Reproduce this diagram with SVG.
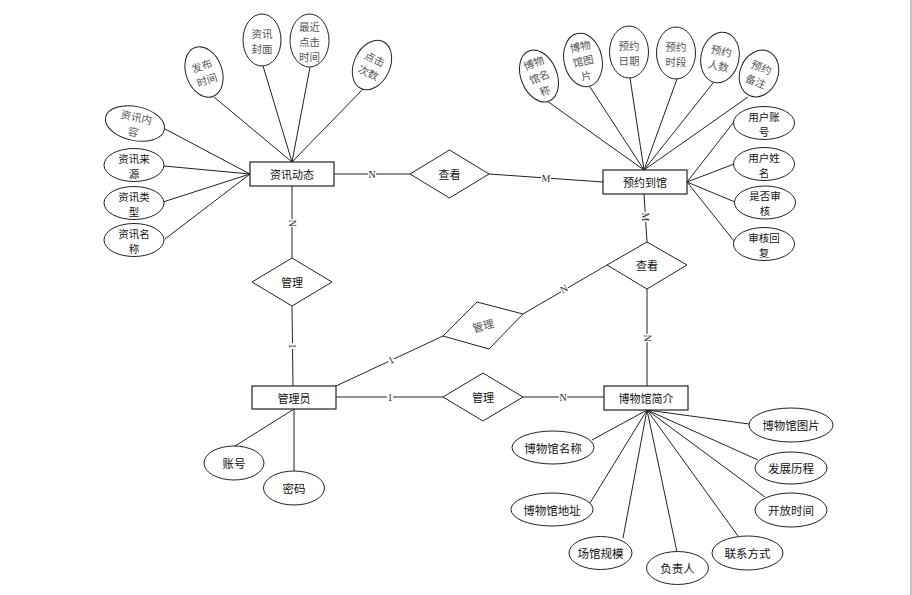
<svg xmlns="http://www.w3.org/2000/svg" width="912" height="595" viewBox="0 0 912 595">
<defs>
<style>
.ent rect{fill:#fff;stroke:#222;stroke-width:1.2}
.rel polygon{fill:#fff;stroke:#222;stroke-width:1}
.att ellipse{fill:#fff;stroke:#222;stroke-width:1}
text{font-family:"Noto Sans CJK SC","Noto Sans",sans-serif;text-anchor:middle;dominant-baseline:central;fill:#111}
.ent text,.rel text{font-size:11px}
.att text{font-size:11.5px}
.att text.m{font-size:10.5px}
.g text{fill:#555}
#connectors line{stroke:#222;stroke-width:1}
.lbl rect{fill:#fff}
.lbl text{font-family:"Liberation Serif",serif;font-size:10px;fill:#222}
</style>
</defs>
<rect x="0" y="0" width="912" height="595" fill="#fff"/>
<rect x="910" y="0" width="2" height="595" fill="#c3c3c3"/>

<g id="connectors">
<line x1="165" y1="129" x2="250" y2="174"/>
<line x1="164" y1="166" x2="250" y2="174"/>
<line x1="163" y1="202" x2="250" y2="174"/>
<line x1="165" y1="239" x2="250" y2="174"/>
<line x1="214" y1="97" x2="292" y2="162"/>
<line x1="263" y1="66" x2="292" y2="162"/>
<line x1="310" y1="67" x2="292" y2="162"/>
<line x1="363" y1="89" x2="292" y2="162"/>
<line x1="547" y1="101" x2="644" y2="170"/>
<line x1="590" y1="87" x2="644" y2="170"/>
<line x1="630" y1="78" x2="644" y2="170"/>
<line x1="677" y1="79" x2="644" y2="170"/>
<line x1="713" y1="83" x2="644" y2="170"/>
<line x1="748" y1="97" x2="644" y2="170"/>
<line x1="733" y1="123" x2="687" y2="182"/>
<line x1="734" y1="164" x2="687" y2="182"/>
<line x1="735" y1="202" x2="687" y2="182"/>
<line x1="734" y1="241" x2="687" y2="182"/>
<line x1="294" y1="409" x2="235" y2="446"/>
<line x1="294" y1="409" x2="294" y2="471"/>
<line x1="749" y1="424" x2="647" y2="410"/>
<line x1="592" y1="440" x2="647" y2="410"/>
<line x1="758" y1="460" x2="647" y2="410"/>
<line x1="590" y1="503" x2="647" y2="410"/>
<line x1="765" y1="497" x2="647" y2="410"/>
<line x1="623" y1="538" x2="647" y2="410"/>
<line x1="677" y1="552" x2="647" y2="410"/>
<line x1="738" y1="536" x2="647" y2="410"/>
<line x1="334" y1="174" x2="410" y2="174"/>
<line x1="489" y1="174" x2="603" y2="182"/>
<line x1="644" y1="194" x2="647" y2="242"/>
<line x1="647" y1="289" x2="647" y2="386"/>
<line x1="292" y1="186" x2="292" y2="258"/>
<line x1="292" y1="306" x2="293" y2="386"/>
<line x1="336" y1="386" x2="443" y2="336"/>
<line x1="523" y1="314" x2="607" y2="265"/>
<line x1="336" y1="397" x2="443" y2="397"/>
<line x1="523" y1="397" x2="604" y2="397"/>
<g class="lbl" transform="translate(372,174)"><rect x="-4" y="-5" width="8" height="10"/><text>N</text></g>
<g class="lbl" transform="translate(546,178) rotate(4)"><rect x="-5" y="-5" width="10" height="10"/><text>M</text></g>
<g class="lbl" transform="translate(645.5,217) rotate(90)"><rect x="-5" y="-4" width="10" height="8"/><text>M</text></g>
<g class="lbl" transform="translate(647,338) rotate(90)"><rect x="-4" y="-4" width="8" height="8"/><text>N</text></g>
<g class="lbl" transform="translate(292,223) rotate(90)"><rect x="-4" y="-4" width="8" height="8"/><text>N</text></g>
<g class="lbl" transform="translate(292.5,346) rotate(90)"><rect x="-3" y="-4" width="6" height="8"/><text>1</text></g>
<g class="lbl" transform="translate(391,360) rotate(-25)"><rect x="-3" y="-4" width="6" height="8"/><text>1</text></g>
<g class="lbl" transform="translate(564,289) rotate(-30)"><rect x="-4" y="-4" width="8" height="8"/><text>N</text></g>
<g class="lbl" transform="translate(390,397)"><rect x="-3" y="-5" width="6" height="10"/><text>1</text></g>
<g class="lbl" transform="translate(563,397)"><rect x="-4" y="-5" width="8" height="10"/><text>N</text></g>
</g>

<g id="e-zixun" class="ent"><rect x="250" y="162" width="84" height="24"/><text x="292" y="174">资讯动态</text></g>
<g id="e-yuyue" class="ent"><rect x="603" y="170" width="84" height="24"/><text x="645" y="182">预约到馆</text></g>
<g id="e-bowuguan" class="ent"><rect x="604" y="386" width="84" height="24"/><text x="646" y="398">博物馆简介</text></g>
<g id="e-admin" class="ent"><rect x="252" y="386" width="84" height="23"/><text x="294" y="397.5">管理员</text></g>

<g id="r-chakan1" class="rel"><polygon points="410,174 449.5,150 489,174 449.5,198"/><text x="449.5" y="174">查看</text></g>
<g id="r-chakan2" class="rel"><polygon points="607,265 647,242 687,265 647,289"/><text x="647" y="265">查看</text></g>
<g id="r-guanli1" class="rel"><polygon points="252,282 292,258 332,282 292,306"/><text x="292" y="282">管理</text></g>
<g id="r-guanli2" class="rel g"><polygon points="477,302 523,314 489,349 443,336"/><text transform="translate(483,325) rotate(-15)">管理</text></g>
<g id="r-guanli3" class="rel"><polygon points="443,397 483,373 523,397 483,421"/><text x="483" y="397">管理</text></g>

<g id="a-zxnr" class="att g" transform="translate(135,123.5) rotate(12)"><ellipse rx="30" ry="17"/><text class="m"><tspan x="0" y="-7.5">资讯内</tspan><tspan x="0" y="7.5">容</tspan></text></g>
<g id="a-zxly" class="att" transform="translate(134,165)"><ellipse rx="30" ry="16.5"/><text class="m"><tspan x="0" y="-7.5">资讯来</tspan><tspan x="0" y="7.5">源</tspan></text></g>
<g id="a-zxlx" class="att" transform="translate(134,203)"><ellipse rx="30" ry="16.5"/><text class="m"><tspan x="0" y="-7.5">资讯类</tspan><tspan x="0" y="7.5">型</tspan></text></g>
<g id="a-zxmc" class="att" transform="translate(134,240)"><ellipse rx="30" ry="16.5"/><text class="m"><tspan x="0" y="-7.5">资讯名</tspan><tspan x="0" y="7.5">称</tspan></text></g>
<g id="a-fbsj" class="att g" transform="translate(204,72) rotate(-20)"><ellipse rx="18" ry="26"/><text class="m"><tspan x="0" y="-7.5">发布</tspan><tspan x="0" y="7.5">时间</tspan></text></g>
<g id="a-zxfm" class="att g" transform="translate(262,40)"><ellipse rx="19" ry="26"/><text class="m"><tspan x="0" y="-7.5">资讯</tspan><tspan x="0" y="7.5">封面</tspan></text></g>
<g id="a-zjdjsj" class="att g" transform="translate(309.5,40.5)"><ellipse rx="19.5" ry="26.5"/><text class="m"><tspan x="0" y="-15">最近</tspan><tspan x="0" y="0">点击</tspan><tspan x="0" y="15">时间</tspan></text></g>
<g id="a-djcs" class="att g" transform="translate(372,65) rotate(25)"><ellipse rx="18" ry="26"/><text class="m"><tspan x="0" y="-7.5">点击</tspan><tspan x="0" y="7.5">次数</tspan></text></g>

<g id="a-bwgmc1" class="att g" transform="translate(539,76) rotate(-22)"><ellipse rx="18" ry="27"/><text class="m"><tspan x="0" y="-15">博物</tspan><tspan x="0" y="0">馆名</tspan><tspan x="0" y="15">称</tspan></text></g>
<g id="a-bwgtp1" class="att g" transform="translate(583,60) rotate(-12)"><ellipse rx="19" ry="27"/><text class="m"><tspan x="0" y="-15">博物</tspan><tspan x="0" y="0">馆图</tspan><tspan x="0" y="15">片</tspan></text></g>
<g id="a-yyrq" class="att g" transform="translate(629,52)"><ellipse rx="19.5" ry="26"/><text class="m"><tspan x="0" y="-7.5">预约</tspan><tspan x="0" y="7.5">日期</tspan></text></g>
<g id="a-yysd" class="att g" transform="translate(676,53)"><ellipse rx="19.5" ry="26"/><text class="m"><tspan x="0" y="-7.5">预约</tspan><tspan x="0" y="7.5">时段</tspan></text></g>
<g id="a-yyrs" class="att g" transform="translate(720,57.5) rotate(12)"><ellipse rx="19" ry="25.5"/><text class="m"><tspan x="0" y="-7.5">预约</tspan><tspan x="0" y="7.5">人数</tspan></text></g>
<g id="a-yybz" class="att g" transform="translate(759,73.5) rotate(22)"><ellipse rx="19" ry="24"/><text class="m"><tspan x="0" y="-7.5">预约</tspan><tspan x="0" y="7.5">备注</tspan></text></g>
<g id="a-yhzh" class="att" transform="translate(764,123)"><ellipse rx="30.5" ry="16.5"/><text class="m"><tspan x="0" y="-7.5">用户账</tspan><tspan x="0" y="7.5">号</tspan></text></g>
<g id="a-yhxm" class="att" transform="translate(764,164)"><ellipse rx="30.5" ry="16.5"/><text class="m"><tspan x="0" y="-7.5">用户姓</tspan><tspan x="0" y="7.5">名</tspan></text></g>
<g id="a-sfsh" class="att" transform="translate(765,202.5)"><ellipse rx="30.5" ry="16.5"/><text class="m"><tspan x="0" y="-7.5">是否审</tspan><tspan x="0" y="7.5">核</tspan></text></g>
<g id="a-shhf" class="att" transform="translate(764,244)"><ellipse rx="30.5" ry="16.5"/><text class="m"><tspan x="0" y="-7.5">审核回</tspan><tspan x="0" y="7.5">复</tspan></text></g>

<g id="a-zh" class="att" transform="translate(234,463)"><ellipse rx="30" ry="17"/><text>账号</text></g>
<g id="a-mm" class="att" transform="translate(294,488)"><ellipse rx="30.5" ry="17"/><text>密码</text></g>

<g id="a-bwgtp2" class="att" transform="translate(791,425)"><ellipse rx="42" ry="17"/><text>博物馆图片</text></g>
<g id="a-bwgmc2" class="att" transform="translate(553,447.5)"><ellipse rx="41" ry="16.5"/><text>博物馆名称</text></g>
<g id="a-fzlc" class="att" transform="translate(791,468)"><ellipse rx="36" ry="16"/><text>发展历程</text></g>
<g id="a-bwgdz" class="att" transform="translate(552,509.5)"><ellipse rx="41" ry="16.5"/><text>博物馆地址</text></g>
<g id="a-kfsj" class="att" transform="translate(791,510)"><ellipse rx="36" ry="17"/><text>开放时间</text></g>
<g id="a-cggm" class="att" transform="translate(600.5,553)"><ellipse rx="31.5" ry="16.5"/><text>场馆规模</text></g>
<g id="a-fzr" class="att" transform="translate(677.5,568)"><ellipse rx="31" ry="16.5"/><text>负责人</text></g>
<g id="a-lxfs" class="att" transform="translate(747.5,553)"><ellipse rx="35.5" ry="17"/><text>联系方式</text></g>
</svg>
